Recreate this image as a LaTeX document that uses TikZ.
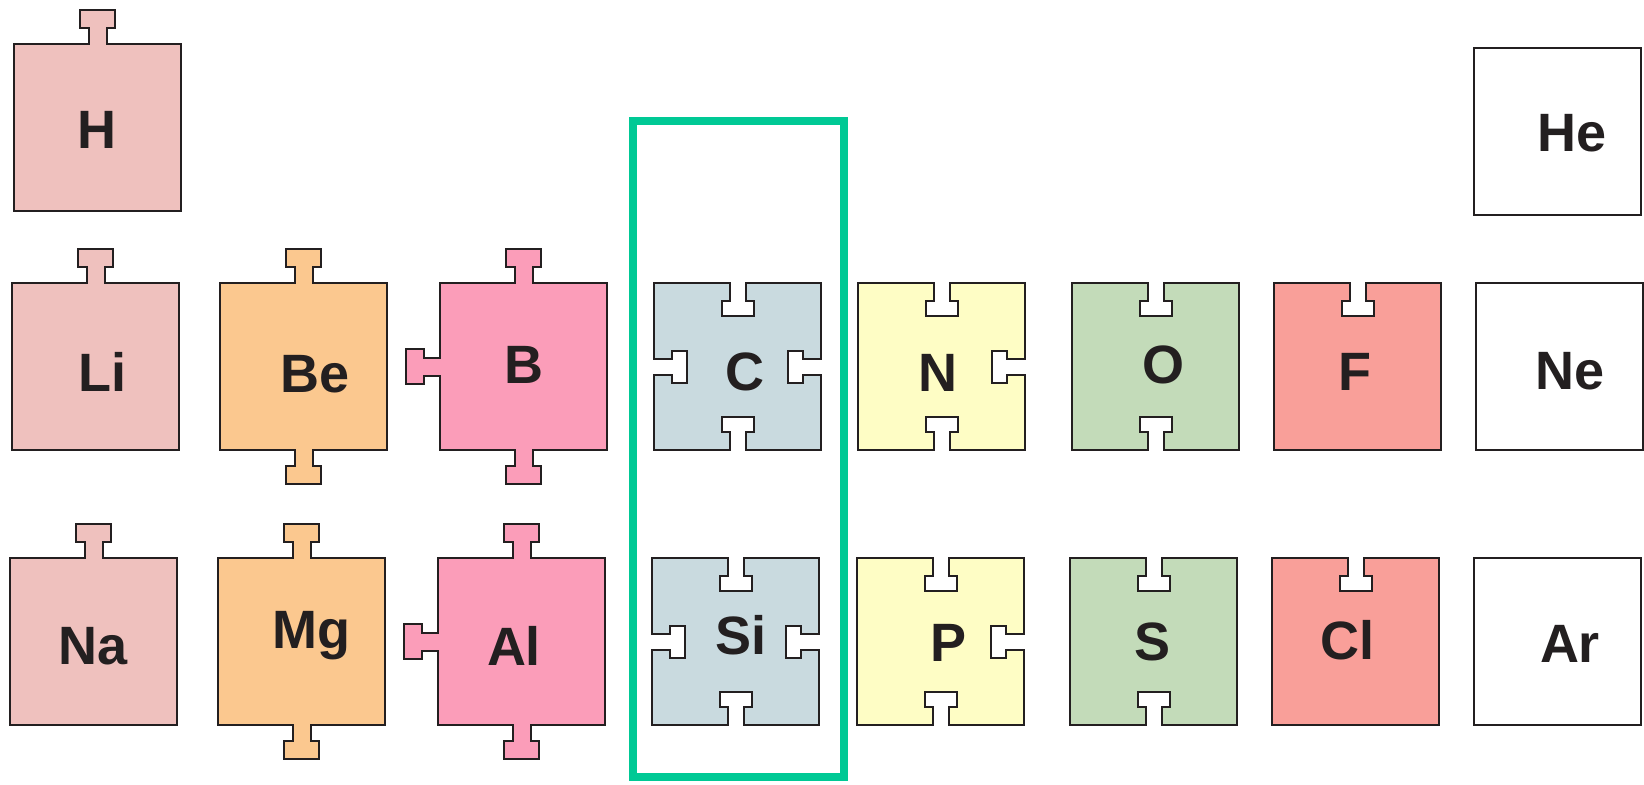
\documentclass[tikz,border=0pt]{standalone}
\usepackage{fontspec}
\setmainfont{Liberation Sans}
\definecolor{alkali}{HTML}{EFC1BE}
\definecolor{earth}{HTML}{FBC88F}
\definecolor{boron}{HTML}{FB9DB9}
\definecolor{carbon}{HTML}{C9DADF}
\definecolor{nitro}{HTML}{FEFDC5}
\definecolor{oxy}{HTML}{C3DBB9}
\definecolor{halo}{HTML}{F99F99}
\definecolor{edge}{HTML}{231F20}
\definecolor{groupgreen}{HTML}{00C995}

\tikzset{
  piece/.style={draw=edge, line width=1pt, line join=miter},
  sym/.style={font=\fontsize{27}{30}\selectfont\bfseries, text=edge, inner sep=0pt},
  % side profiles, in the local frame of a 167 x 167 square
  top none/.style={},
  top tab/.style={insert path={-- (74.5,0) -- (74.5,-16) -- (66,-16) -- (66,-34) -- (101,-34) -- (101,-16) -- (92.5,-16) -- (92.5,0)}},
  top notch/.style={insert path={-- (75.5,0) -- (75.5,18) -- (67.5,18) -- (67.5,33) -- (99.5,33) -- (99.5,18) -- (91.5,18) -- (91.5,0)}},
  right none/.style={},
  right tab/.style={insert path={-- (167,74.5) -- (183,74.5) -- (183,66) -- (201,66) -- (201,101) -- (183,101) -- (183,92.5) -- (167,92.5)}},
  right notch/.style={insert path={-- (167,75.5) -- (149,75.5) -- (149,67.5) -- (134,67.5) -- (134,99.5) -- (149,99.5) -- (149,91.5) -- (167,91.5)}},
  bottom none/.style={},
  bottom tab/.style={insert path={-- (92.5,167) -- (92.5,183) -- (101,183) -- (101,201) -- (66,201) -- (66,183) -- (74.5,183) -- (74.5,167)}},
  bottom notch/.style={insert path={-- (91.5,167) -- (91.5,149) -- (99.5,149) -- (99.5,134) -- (67.5,134) -- (67.5,149) -- (75.5,149) -- (75.5,167)}},
  left none/.style={},
  left tab/.style={insert path={-- (0,92.5) -- (-16,92.5) -- (-16,101) -- (-34,101) -- (-34,66) -- (-16,66) -- (-16,74.5) -- (0,74.5)}},
  left notch/.style={insert path={-- (0,91.5) -- (18,91.5) -- (18,99.5) -- (33,99.5) -- (33,67.5) -- (18,67.5) -- (18,75.5) -- (0,75.5)}},
}

% #1,#2 corner, #3-#6 top/right/bottom/left, #7 fill, #8 symbol, #9 label position
\newcommand{\elem}[9]{%
  \begin{scope}[shift={(#1,#2)}]
    \draw[piece, fill=#7] (0,0) [top #3] -- (167,0) [right #4] -- (167,167) [bottom #5] -- (0,167) [left #6] -- cycle;
    \node[sym] (#8) at (#9) {#8};
  \end{scope}
}

\begin{document}
\begin{tikzpicture}[x=0.5pt, y=-0.5pt]
  \useasboundingbox (0,0) rectangle (1644,784);
  % period 1
  \elem{14}{44}{tab}{none}{none}{none}{alkali}{H}{83,86}
  \elem{1474}{48}{none}{none}{none}{none}{white}{He}{98,85}
  % period 2
  \elem{12}{283}{tab}{none}{none}{none}{alkali}{Li}{90,89}
  \elem{220}{283}{tab}{none}{tab}{none}{earth}{Be}{95,91}
  \elem{440}{283}{tab}{none}{tab}{tab}{boron}{B}{84,82}
  \elem{654}{283}{notch}{notch}{notch}{notch}{carbon}{C}{91,89}
  \elem{858}{283}{notch}{notch}{notch}{none}{nitro}{N}{80,90}
  \elem{1072}{283}{notch}{none}{notch}{none}{oxy}{O}{91,82}
  \elem{1274}{283}{notch}{none}{none}{none}{halo}{F}{81,89}
  \elem{1476}{283}{none}{none}{none}{none}{white}{Ne}{94,88}
  % period 3
  \elem{10}{558}{tab}{none}{none}{none}{alkali}{Na}{83,88}
  \elem{218}{558}{tab}{none}{tab}{none}{earth}{Mg}{93,78}
  \elem{438}{558}{tab}{none}{tab}{tab}{boron}{Al}{76,88}
  \elem{652}{558}{notch}{notch}{notch}{notch}{carbon}{Si}{89,77}
  \elem{857}{558}{notch}{notch}{notch}{none}{nitro}{P}{91,85}
  \elem{1070}{558}{notch}{none}{notch}{none}{oxy}{S}{82,84}
  \elem{1272}{558}{notch}{none}{none}{none}{halo}{Cl}{75,82}
  \elem{1474}{558}{none}{none}{none}{none}{white}{Ar}{96,86}
  % group 14 frame
  \draw[groupgreen, line width=4pt] (633,121) rectangle (844,777);
\end{tikzpicture}
\end{document}
